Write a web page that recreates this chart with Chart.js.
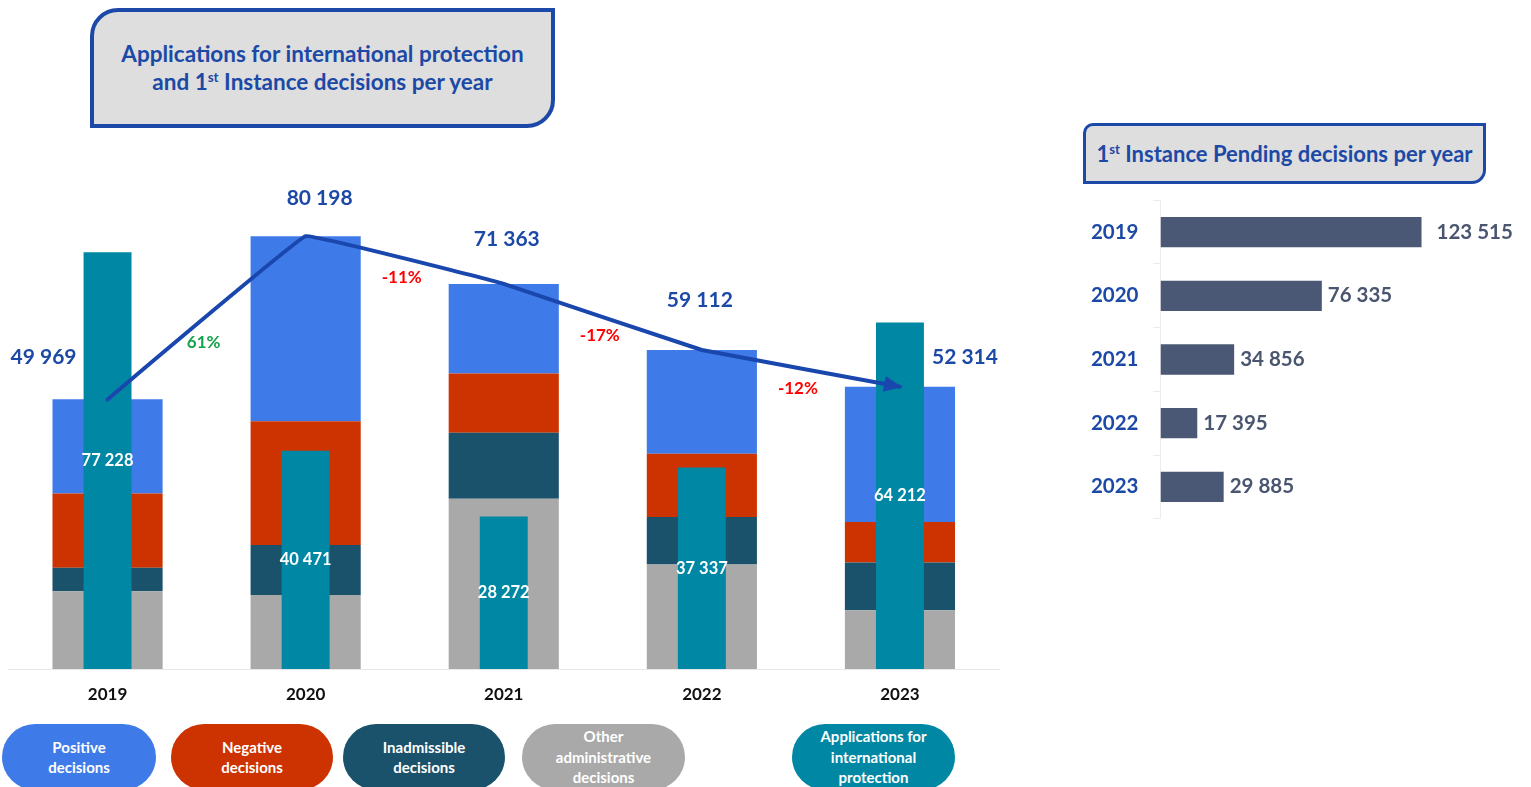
<!DOCTYPE html>
<html lang="en">
<head>
  <meta charset="UTF-8">
  <title>Applications and 1st instance decisions</title>
  <script src="https://cdn.jsdelivr.net/npm/chart.js"></script>
  <style>
    body {
      margin: 0;
      background: #fff;
      font-family: 'Lato', sans-serif;
    }

    #page {
      position: relative;
      width: 1531px;
      height: 787px;
      overflow: hidden;
    }

    .title-box {
      position: absolute;
      box-sizing: border-box;
      background: #dedede;
      border: 4px solid #1c49a8;
      color: #1c49a6;
      font-weight: bold;
      display: flex;
      align-items: center;
      justify-content: center;
      text-align: center;
    }

    .title-box sup {
      font-size: 0.6em;
      line-height: 0;
    }

    #title-main {
      left: 90px;
      top: 8px;
      width: 465px;
      height: 120px;
      border-radius: 28px 0 28px 0;
      font-size: 22.5px;
      line-height: 28px;
    }

    #title-pending {
      left: 1083px;
      top: 123px;
      width: 403px;
      height: 61px;
      border-width: 3.5px;
      border-radius: 10px 0 14px 0;
      font-size: 22px;
      white-space: nowrap;
    }

    #decisions-box {
      position: absolute;
      left: 0;
      top: 100px;
      width: 1010px;
      height: 620px;
    }

    #pending-box {
      position: absolute;
      left: 1060px;
      top: 173px;
      width: 471px;
      height: 373px;
    }

    .pill {
      position: absolute;
      top: 724px;
      height: 66px;
      border-radius: 34px;
      display: flex;
      align-items: center;
      justify-content: center;
      text-align: center;
      color: #fff;
      font-weight: bold;
      font-size: 15px;
      line-height: 20.5px;
      white-space: pre-line;
    }
  </style>
</head>
<body>
<div id="page">
  <div class="title-box" id="title-main"><span>Applications for international protection<br>and 1<sup>st</sup> Instance decisions per year</span></div>
  <div class="title-box" id="title-pending"><span>1<sup>st</sup> Instance Pending decisions per year</span></div>

  <div id="decisions-box"><canvas id="decisionsChart"></canvas></div>
  <div id="pending-box"><canvas id="pendingChart"></canvas></div>

  <div id="legend"></div>
</div>

<script>
  // yearly figures
  const years = ['2019', '2020', '2021', '2022', '2023'];
  const positive = [17456, 34264, 16622, 19238, 25044];
  const negative = [13742, 22930, 10945, 11687, 7532];
  const inadmissible = [4330, 9276, 12244, 8830, 8849];
  const otherDecisions = [14441, 13728, 31552, 19357, 10889];
  const totalDecisions = [49969, 80198, 71363, 59112, 52314];
  const applications = [77228, 40471, 28272, 37337, 64212];
  const yearlyChange = [61, -11, -17, -12];
  const pending = [123515, 76335, 34856, 17395, 29885];

  const seriesNames = [
    'Positive\ndecisions',
    'Negative\ndecisions',
    'Inadmissible\ndecisions',
    'Other\nadministrative\ndecisions',
    'Applications for\ninternational\nprotection'
  ];

  const COLORS = {
    positive: '#3f7be8',
    negative: '#cc3300',
    inadmissible: '#1b526b',
    other: '#a9a9a9',
    applications: '#0087a4',
    line: '#1a47ad',
    pending: '#4a5875',
    yearText: '#1c49a6',
    pendingText: '#4a5570',
    up: '#13a34a',
    down: '#ff0000'
  };

  // pill legend under the left chart
  const pillColors = [COLORS.positive, COLORS.negative, COLORS.inadmissible, COLORS.other, COLORS.applications];
  const pillPlaces = [[2, 154], [171, 162], [343, 162], [522, 163], [792, 163]];
  const legend = document.getElementById('legend');
  seriesNames.forEach((name, i) => {
    const pill = document.createElement('div');
    pill.className = 'pill';
    pill.style.left = pillPlaces[i][0] + 'px';
    pill.style.width = pillPlaces[i][1] + 'px';
    pill.style.background = pillColors[i];
    pill.textContent = name;
    legend.appendChild(pill);
  });

  const fmt = (n) => n.toString().replace(/\B(?=(\d{3})+(?!\d))/g, ' ');
  const flat = (s) => s.replace(/\n/g, ' ');

  Chart.defaults.font.family = "'Lato', sans-serif";
  Chart.defaults.animation = false;

  // where each total label sits relative to its line point
  const totalOffsets = [[-64, -42], [14, -38], [3, -45], [-2, -50], [65, -29]];
  const changeDrops = [25, 17, 19, 20];

  const decisionLabels = {
    id: 'decisionLabels',
    afterDatasetsDraw(chart) {
      const ctx = chart.ctx;
      const pts = chart.getDatasetMeta(5).data;
      const apps = chart.getDatasetMeta(4).data;
      ctx.save();

      // arrow head at the end of the trend line
      const last = pts[pts.length - 1];
      const prev = pts[pts.length - 2];
      const ang = Math.atan2(last.y - prev.y, last.x - prev.x);
      const tipX = last.x + Math.cos(ang) * 2;
      const tipY = last.y + Math.sin(ang) * 2;
      ctx.fillStyle = COLORS.line;
      ctx.beginPath();
      ctx.moveTo(tipX, tipY);
      ctx.lineTo(tipX - 18 * Math.cos(ang) + 8 * Math.sin(ang), tipY - 18 * Math.sin(ang) - 8 * Math.cos(ang));
      ctx.lineTo(tipX - 18 * Math.cos(ang) - 8 * Math.sin(ang), tipY - 18 * Math.sin(ang) + 8 * Math.cos(ang));
      ctx.closePath();
      ctx.fill();

      ctx.textAlign = 'center';
      ctx.textBaseline = 'middle';

      // totals above the stacks
      ctx.font = "bold 21px 'Lato', sans-serif";
      ctx.fillStyle = COLORS.yearText;
      pts.forEach((p, i) => {
        ctx.fillText(fmt(totalDecisions[i]), p.x + totalOffsets[i][0], p.y + totalOffsets[i][1]);
      });

      // year-on-year change between points
      ctx.font = "bold 17px 'Lato', sans-serif";
      yearlyChange.forEach((v, i) => {
        const a = pts[i], b = pts[i + 1];
        ctx.fillStyle = v >= 0 ? COLORS.up : COLORS.down;
        ctx.fillText(v + '%', (a.x + b.x) / 2 - 3, (a.y + b.y) / 2 + changeDrops[i]);
      });

      // application counts in the middle of the teal bars
      ctx.font = "bold 16.5px 'Lato', sans-serif";
      ctx.fillStyle = '#ffffff';
      apps.forEach((bar, i) => {
        ctx.fillText(fmt(applications[i]), bar.x, (bar.y + bar.base) / 2);
      });
      ctx.restore();
    }
  };

  const stackBar = (label, data, color) => ({
    type: 'bar',
    label: flat(label),
    data: data,
    backgroundColor: color,
    stack: 'decisions',
    order: 2,
    grouped: false,
    categoryPercentage: 1,
    barPercentage: 0.556
  });

  new Chart(document.getElementById('decisionsChart'), {
    data: {
      labels: years,
      datasets: [
        stackBar(seriesNames[3], otherDecisions, COLORS.other),
        stackBar(seriesNames[2], inadmissible, COLORS.inadmissible),
        stackBar(seriesNames[1], negative, COLORS.negative),
        stackBar(seriesNames[0], positive, COLORS.positive),
        {
          type: 'bar',
          label: flat(seriesNames[4]),
          data: applications,
          backgroundColor: COLORS.applications,
          stack: 'applications',
          order: 1,
          grouped: false,
          categoryPercentage: 1,
          barPercentage: 0.242
        },
        {
          type: 'line',
          label: 'Total decisions',
          data: totalDecisions,
          stack: 'total',
          order: 0,
          borderColor: COLORS.line,
          borderWidth: 4,
          borderCapStyle: 'round',
          borderJoinStyle: 'round',
          tension: 0.04,
          pointRadius: 0,
          fill: false
        }
      ]
    },
    options: {
      responsive: true,
      maintainAspectRatio: false,
      layout: { padding: { top: 29.3, left: 8.5, right: 11, bottom: 0.5 } },
      plugins: { legend: { display: false }, tooltip: { enabled: false } },
      scales: {
        x: {
          stacked: true,
          grid: { display: false, drawTicks: false },
          border: { color: '#e8e8e8', width: 1 },
          ticks: { color: '#111111', padding: 15, font: { size: 17, weight: 'bold' } }
        },
        y: {
          stacked: true,
          display: false,
          min: 0,
          max: 100000
        }
      }
    },
    plugins: [decisionLabels]
  });

  const pendingOffsets = [15, 6, 6, 6, 6];

  const pendingLabels = {
    id: 'pendingLabels',
    afterDatasetsDraw(chart) {
      const ctx = chart.ctx;
      ctx.save();
      ctx.font = "bold 20.5px 'Lato', sans-serif";
      ctx.fillStyle = COLORS.pendingText;
      ctx.textAlign = 'left';
      ctx.textBaseline = 'middle';
      chart.getDatasetMeta(0).data.forEach((bar, i) => {
        ctx.fillText(fmt(pending[i]), bar.x + pendingOffsets[i], bar.y);
      });
      ctx.restore();
    }
  };

  new Chart(document.getElementById('pendingChart'), {
    type: 'bar',
    data: {
      labels: years,
      datasets: [{
        label: '1st Instance Pending decisions',
        data: pending,
        backgroundColor: COLORS.pending,
        categoryPercentage: 1,
        barPercentage: 0.476
      }]
    },
    options: {
      indexAxis: 'y',
      responsive: true,
      maintainAspectRatio: false,
      layout: { padding: { top: 8.8, left: 30.5, right: 53.5, bottom: 10.8 } },
      plugins: { legend: { display: false }, tooltip: { enabled: false } },
      scales: {
        x: { display: false, min: 0, max: 150000 },
        y: {
          afterFit: (scale) => { scale.width = 70; },
          grid: { drawOnChartArea: false, tickLength: 7, color: '#ececec', offset: true },
          border: { color: '#ececec' },
          ticks: { color: COLORS.yearText, padding: 15, font: { size: 20.5, weight: 'bold' } }
        }
      }
    },
    plugins: [pendingLabels]
  });
</script>
</body>
</html>
